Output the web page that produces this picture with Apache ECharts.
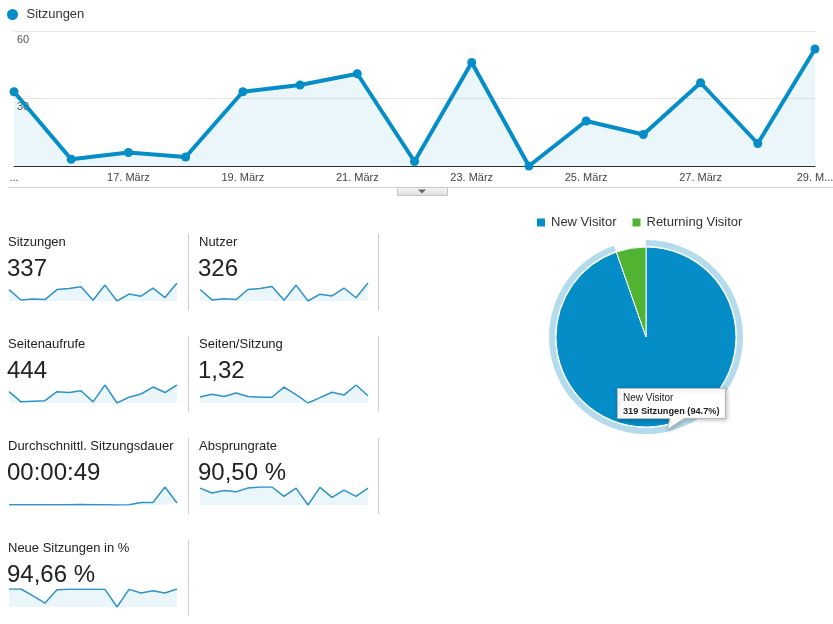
<!DOCTYPE html>
<html>
<head>
<meta charset="utf-8">
<script src="https://cdn.jsdelivr.net/npm/echarts@6/dist/echarts.min.js"></script>
<style>
html,body{margin:0;padding:0;background:#fff;}
#c{width:833px;height:624px;}
</style>
</head>
<body>
<div id="c"></div>
<script>
// ---- data ----
const days = ['15. März','16. März','17. März','18. März','19. März','20. März','21. März','22. März','23. März','24. März','25. März','26. März','27. März','28. März','29. März'];
const tickLabels = ['...','','17. März','','19. März','','21. März','','23. März','','25. März','','27. März','','29. M...'];
const yTicks = [0, 30, 60];
const sessions = [33,3,6,4,33,36,41,2,46,0,20,14,37,10,52];
const users = [32,3,6,4,32,35,40,2,44,0,19,14,36,9,50];
const pageviews = [39,4,6,8,39,36,42,4,62,0,20,31,55,36,62];
const pagesPerSession = [1.22,1.73,1.3,2.0,1.3,1.15,1.15,3.17,1.66,0,1.08,2.16,1.58,3.6,1.44];
const avgDuration = [10,10,10,10,10,10,15,10,10,0,10,90,90,640,70];
const bounceRate = [94,67,81,73,94,100,100,48,94,0,98,42,83,48,94];
const newSessionsPct = [100,100,62,22,96,98,98,98,98,0,98,78,90,78,100];
const metricNames = ['Sitzungen','Nutzer','Seitenaufrufe','Seiten/Sitzung','Durchschnittl. Sitzungsdauer','Absprungrate','Neue Sitzungen in %'];
const metricValues = ['337','326','444','1,32','00:00:49','90,50 %','94,66 %'];
const metricSeries = [sessions, users, pageviews, pagesPerSession, avgDuration, bounceRate, newSessionsPct];
const visitorTypes = ['New Visitor','Returning Visitor'];
const visitorSessions = [319, 18];
const tooltipTitle = 'New Visitor';
const tooltipText = '319 Sitzungen (94.7%)';

// ---- styles ----
const FONT = 'Arial, "Liberation Sans", sans-serif';
const BLUE = '#058dc7';
const GREEN = '#50b432';
const AREA = 'rgba(5,141,199,0.11)';

const chart = echarts.init(document.getElementById('c'), null, {renderer: 'canvas'});

const grids = [{left: 14, right: 18, top: 31, bottom: 458, containLabel: false, outerBoundsMode: 'none'}];
const xAxes = [{
  type: 'category', gridIndex: 0, data: days, boundaryGap: false,
  axisLine: {lineStyle: {color: '#333', width: 1}},
  axisTick: {show: false},
  axisLabel: {interval: 0, formatter: (v, i) => tickLabels[i], color: '#444', fontSize: 11, fontFamily: FONT, margin: 6}
}];
const yAxes = [{
  type: 'value', gridIndex: 0, min: yTicks[0], max: yTicks[yTicks.length - 1], interval: yTicks[1] - yTicks[0],
  axisLine: {show: false}, axisTick: {show: false},
  splitLine: {lineStyle: {color: '#e6e6e6'}},
  axisLabel: {inside: true, margin: 3, verticalAlign: 'top', padding: [3, 0, 0, 0],
    formatter: v => (v === 0 ? '' : String(v)), color: '#555', fontSize: 11, fontFamily: FONT}
}];
const series = [{
  name: 'Sitzungen', type: 'line', xAxisIndex: 0, yAxisIndex: 0, data: sessions,
  symbol: 'circle', symbolSize: 9, showAllSymbol: true,
  lineStyle: {color: BLUE, width: 4}, itemStyle: {color: BLUE},
  areaStyle: {color: AREA}, z: 3
}];
const graphics = [];

// separators & button
graphics.push({type: 'line', shape: {x1: 8, y1: 187.5, x2: 833, y2: 187.5}, style: {stroke: '#d4d4d4', lineWidth: 1}});
graphics.push({type: 'rect', shape: {x: 397.5, y: 187.5, width: 50, height: 8},
  style: {fill: new echarts.graphic.LinearGradient(0, 0, 0, 1, [{offset: 0, color: '#f6f6f6'}, {offset: 1, color: '#dddddd'}]), stroke: '#c6c6c6', lineWidth: 1}});
graphics.push({type: 'polygon', shape: {points: [[418, 189.5], [426, 189.5], [422, 193.5]]}, style: {fill: '#666'}});

// scorecards
metricNames.forEach((name, k) => {
  const col = k % 2, row = Math.floor(k / 2);
  const x0 = col === 0 ? 8 : 199;
  const rowTop = 234 + row * 102;
  graphics.push({type: 'text', x: x0, y: rowTop + 8, style: {text: name, fontSize: 13, fontFamily: FONT, fill: '#222', verticalAlign: 'middle', align: 'left'}});
  graphics.push({type: 'text', x: x0 - 1, y: rowTop + 35, style: {text: metricValues[k], fontSize: 24, fontFamily: FONT, fill: '#222', verticalAlign: 'middle', align: 'left'}});
  const gi = grids.length;
  grids.push({left: col === 0 ? 9 : 200, width: 168, top: rowTop + 49, height: 18, containLabel: false, outerBoundsMode: 'none'});
  xAxes.push({type: 'category', gridIndex: gi, data: days, boundaryGap: false, show: false});
  yAxes.push({type: 'value', gridIndex: gi, min: 0, max: 'dataMax', show: false});
  series.push({type: 'line', xAxisIndex: gi, yAxisIndex: gi, data: metricSeries[k], symbol: 'none',
    lineStyle: {color: '#2d93c8', width: 1.5}, areaStyle: {color: AREA}, silent: true});
});
// vertical separators
for (let row = 0; row < 4; row++) {
  const rowTop = 234 + row * 102;
  graphics.push({type: 'line', shape: {x1: 188.5, y1: rowTop, x2: 188.5, y2: rowTop + 76}, style: {stroke: '#cfcfcf', lineWidth: 1}});
  if (row < 3) graphics.push({type: 'line', shape: {x1: 378.5, y1: rowTop, x2: 378.5, y2: rowTop + 76}, style: {stroke: '#cfcfcf', lineWidth: 1}});
}

// pie
series.push({
  type: 'pie', center: [646, 337], radius: [0, 90], startAngle: 90, clockwise: true,
  data: visitorTypes.map((n, i) => ({name: n, value: visitorSessions[i], itemStyle: {color: i === 0 ? BLUE : GREEN}})),
  itemStyle: {borderColor: '#fff', borderWidth: 1}, label: {show: false}, labelLine: {show: false}, silent: true
});
series.push({
  type: 'pie', center: [646, 337], radius: [91, 97], startAngle: 90, clockwise: true,
  data: visitorTypes.map((n, i) => ({name: n, value: visitorSessions[i], itemStyle: {color: i === 0 ? '#b3dbeb' : 'rgba(0,0,0,0)'}})),
  label: {show: false}, labelLine: {show: false}, silent: true, z: 1
});

// tooltip bubble
graphics.push({type: 'polygon', z: 100, shape: {points: [[617.5, 388.5], [725.5, 388.5], [725.5, 418.5], [684, 418.5], [667, 430], [670, 418.5], [617.5, 418.5]]},
  style: {fill: '#fff', stroke: '#bbb', lineWidth: 1, shadowBlur: 4, shadowColor: 'rgba(0,0,0,0.25)', shadowOffsetX: 1, shadowOffsetY: 1}});
graphics.push({type: 'text', z: 101, x: 623, y: 398, style: {text: tooltipTitle, fontSize: 10, fontFamily: FONT, fill: '#222', verticalAlign: 'middle'}});
graphics.push({type: 'text', z: 101, x: 623, y: 411, style: {text: tooltipText, fontSize: 9.2, fontWeight: 'bold', fontFamily: FONT, fill: '#222', verticalAlign: 'middle'}});

chart.setOption({
  animation: false,
  textStyle: {fontFamily: FONT},
  legend: [
    {data: ['Sitzungen'], left: 7, top: 8, icon: 'circle', itemWidth: 18, itemHeight: 11, padding: 0,
      textStyle: {fontSize: 13, color: '#333', fontFamily: FONT}},
    {data: visitorTypes, left: 535, top: 216, icon: 'rect', itemWidth: 10, itemHeight: 10, itemGap: 14, padding: 0,
      textStyle: {fontSize: 13, color: '#333', fontFamily: FONT}}
  ],
  grid: grids, xAxis: xAxes, yAxis: yAxes, series: series, graphic: graphics
});
</script>
</body>
</html>
